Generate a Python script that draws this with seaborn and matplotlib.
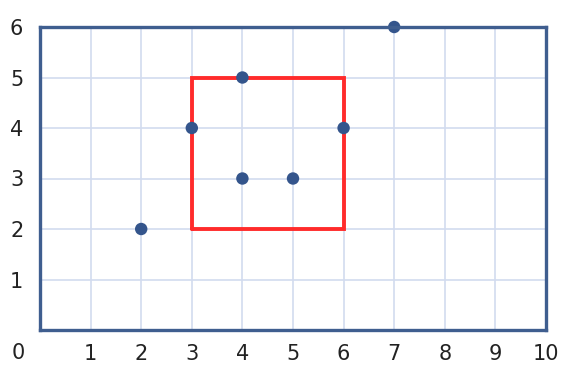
import matplotlib
matplotlib.use("Agg")
import matplotlib.pyplot as plt
import seaborn as sns
import pandas as pd

# Data
point_x = [2, 3, 4, 4, 5, 6, 7]
point_y = [2, 4, 5, 3, 3, 4, 6]
rect_x = [3, 6, 6, 3, 3]
rect_y = [2, 2, 5, 5, 2]
x_ticks = [1, 2, 3, 4, 5, 6, 7, 8, 9, 10]
y_ticks = [1, 2, 3, 4, 5, 6]

sns.set_theme(style="white")
plt.rcParams['font.family'] = ['DejaVu Sans']

fig = plt.figure(figsize=(5.68, 3.72), dpi=100)
ax = fig.add_axes([40/568, 42/372, 506/568, 303/372])

grid_c = "#d2dcef"
border_c = "#3f5e8f"
pt_c = "#34558c"
red_c = "#ff2b2b"

ax.set_xlim(0, 10)
ax.set_ylim(0, 6)
ax.set_xticks(x_ticks)
ax.set_yticks(y_ticks)
ax.grid(True, color=grid_c, linewidth=1.2)
ax.set_axisbelow(True)

ax.plot(rect_x, rect_y, color=red_c, linewidth=2.8, zorder=3, solid_joinstyle="miter")

df_p = pd.DataFrame({"x": point_x, "y": point_y})
sns.scatterplot(data=df_p, x="x", y="y", ax=ax, color=pt_c, s=80, edgecolor="none",
                zorder=4, clip_on=False)

for s in ax.spines.values():
    s.set_color(border_c)
    s.set_linewidth(2.4)
    s.set_zorder(5)

ax.tick_params(axis="both", length=0, labelsize=15, labelcolor="#222222")
ax.tick_params(axis="x", pad=10)
ax.tick_params(axis="y", pad=12)
ax.set_xlabel("")
ax.set_ylabel("")
ax.text(-0.043, -0.075, "0", transform=ax.transAxes, fontsize=15, color="#222222",
        ha="center", va="center")

fig.savefig("out.png", dpi=100, facecolor="white")
